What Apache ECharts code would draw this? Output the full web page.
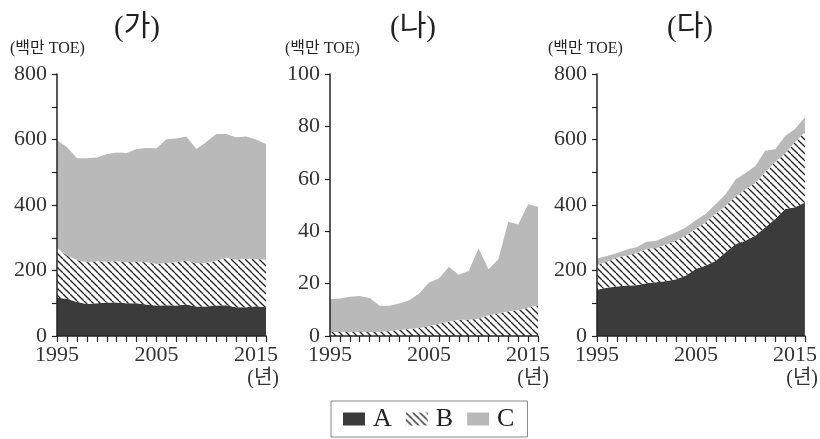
<!DOCTYPE html>
<html><head><meta charset="utf-8">
<script src="https://cdn.jsdelivr.net/npm/echarts@6/dist/echarts.min.js"></script>
<style>html,body{margin:0;padding:0;background:#fff}#c{width:820px;height:439px}</style>
</head><body><div id="c"></div>
<script>
const years = ['1995','1996','1997','1998','1999','2000','2001','2002','2003','2004','2005','2006','2007','2008','2009','2010','2011','2012','2013','2014','2015','2016'];
const xTickLabels = ['1995','2005','2015'];
const panelTitles = ['(가)','(나)','(다)'];
const unitLabel = '(백만 TOE)';
const yearUnit = '(년)';
const seriesNames = ['A','B','C'];

// (가)
const gaA = [117,114,104,98,100,102,102,100,100,96,93,94,93,96,90,90,93,94,88,88,91,88];
const gaB = [151,132,128,127,128,125,126,125,127,129,127,129,132,134,132,133,137,145,145,148,144,145];
const gaC = [330,331,311,318,317,328,332,334,344,349,353,378,378,379,349,369,387,378,374,373,365,353];
// (나)
const naA = [0,0,0,0,0,0,0,0,0,0,0,0,0,0,0,0,0,0,0,0,0,0];
const naB = [1.5,1.5,1.5,1.5,1.5,1.5,1.9,2.3,2.7,3.1,3.7,4.7,5.4,6.2,6.2,6.6,7.9,8.5,9.4,9.8,10.8,11.7];
const naC = [12.5,12.8,13.5,13.8,13.0,10.0,9.6,10.1,10.9,13.1,16.7,17.2,21.0,17.2,18.6,26.8,17.6,20.8,34.2,32.8,39.5,37.6];
// (다)
const daA = [141,147,151,154,155,161,164,168,173,185,205,215,230,256,281,291,307,332,357,388,393,408];
const daB = [76,80,88,92,98,105,105,111,118,122,122,132,143,142,145,156,160,169,174,169,199,215];
const daC = [20,17,14,18,18,22,22,25,26,25,27,26,30,35,52,51,52,65,39,54,40,45];

const yMax = [800,100,800];
const yInterval = [100,20,100];
const yLabelStep = [200,20,200];

const panels = [[gaA,gaB,gaC],[naA,naB,naC],[daA,daB,daC]];

// hatch pattern
function makeHatch(){
  const s = 7;
  const cv = document.createElement('canvas');
  cv.width = s; cv.height = s;
  const ctx = cv.getContext('2d');
  ctx.fillStyle = '#ffffff';
  ctx.fillRect(0,0,s,s);
  ctx.strokeStyle = '#222222';
  ctx.lineWidth = 1.3;
  for (let k=-1;k<=1;k++){
    ctx.beginPath();
    ctx.moveTo(k*s, 0);
    ctx.lineTo(k*s + s, s);
    ctx.stroke();
  }
  return cv;
}
const hatch = {image: makeHatch(), repeat: 'repeat'};
const colors = ['#3b3b3b', hatch, '#b9b9b9'];

const gridLefts = [57,330,597];
const gridWidths = [209,208,208];
const serif = "'Liberation Serif','Noto Sans CJK KR',serif";

const grids = [], xAxes = [], yAxes = [], series = [];
for (let p=0;p<3;p++){
  grids.push({left: gridLefts[p], top: 74, width: gridWidths[p], height: 262});
  xAxes.push({
    type:'category', gridIndex:p, data: years, boundaryGap:false,
    axisLine:{lineStyle:{color:'#222', width:1.5}},
    axisTick:{show:true, interval:0, length:6, lineStyle:{color:'#222', width:1.2}},
    axisLabel:{interval:0, formatter:v => xTickLabels.includes(v) ? v : '', fontFamily:serif, fontSize:22, color:'#333', margin:8},
    splitLine:{show:false}, z:10
  });
  const step = yLabelStep[p];
  yAxes.push({
    type:'value', gridIndex:p, min:0, max:yMax[p], interval:yInterval[p],
    axisLine:{show:true, lineStyle:{color:'#222', width:1.5}},
    axisTick:{show:true, length:5, lineStyle:{color:'#222', width:1.2}},
    axisLabel:{formatter:v => (v % step === 0) ? String(v) : '', fontFamily:serif, fontSize:22, color:'#333', margin:10},
    splitLine:{show:false}, z:10
  });
  for (let s=0;s<3;s++){
    series.push({
      name: seriesNames[s], type:'line', xAxisIndex:p, yAxisIndex:p, stack:'st'+p,
      data: panels[p][s], showSymbol:false, symbol:'none',
      lineStyle:{width:0}, itemStyle:{color: colors[s]},
      areaStyle:{color: colors[s], opacity:1}, silent:true, animation:false
    });
  }
}

const titleX = [137,413,690];
const unitX = [10,285,548];
const yearX = [279,549,818];
const graphic = [];
for (let p=0;p<3;p++){
  graphic.push({type:'text', x:titleX[p], y:28, style:{text:panelTitles[p], font:"29px "+serif, fill:'#222', textAlign:'center', textVerticalAlign:'middle'}});
  graphic.push({type:'text', x:unitX[p], y:49, style:{text:unitLabel, font:"16px "+serif, fill:'#222', textAlign:'left', textVerticalAlign:'middle'}});
  graphic.push({type:'text', x:yearX[p], y:379, style:{text:yearUnit, font:"20px "+serif, fill:'#333', textAlign:'right', textVerticalAlign:'middle'}});
}

const chart = echarts.init(document.getElementById('c'), null, {renderer:'canvas'});
chart.setOption({
  animation:false,
  grid: grids, xAxis: xAxes, yAxis: yAxes, series: series,
  legend:{
    data: seriesNames, left:331, top:401, orient:'horizontal',
    padding:[5,13,5,12], itemGap:14, itemWidth:22, itemHeight:13,
    borderColor:'#888', borderWidth:1, icon:'rect',
    textStyle:{fontFamily:serif, fontSize:26, color:'#222', padding:[0,0,0,3]},
    selectedMode:false
  },
  graphic: graphic
});
</script></body></html>
